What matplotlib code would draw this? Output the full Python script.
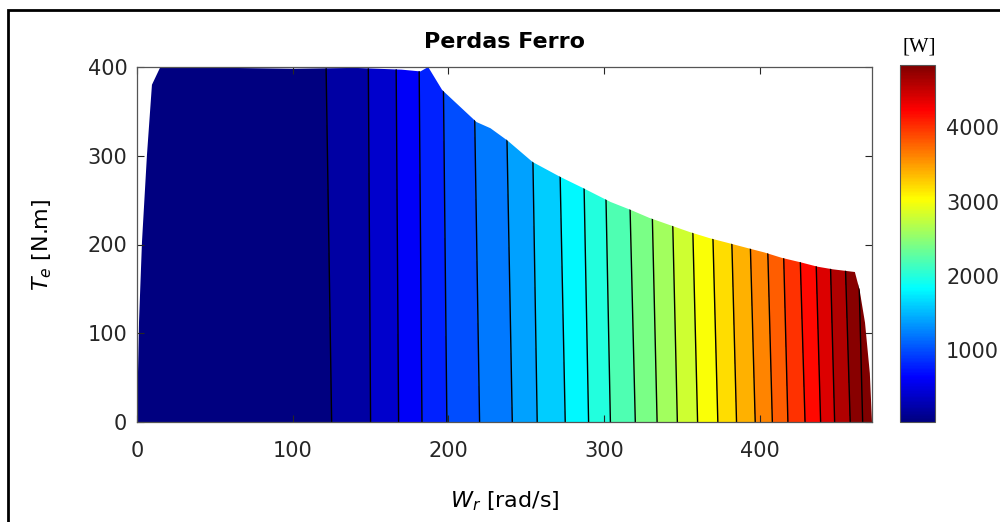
import numpy as np
import matplotlib
matplotlib.use("Agg")
import matplotlib.pyplot as plt
from matplotlib.patches import Polygon, Rectangle
from matplotlib.colors import Normalize, LinearSegmentedColormap
from matplotlib.cm import ScalarMappable

# speed points where the loss was read [rad/s]
wr_pts = [0, 125, 150, 168, 183, 199, 220, 241, 257, 275, 290, 304, 320, 334,
          347, 360, 373, 385, 397, 408, 418, 429, 439, 448, 458, 466, 472]
# torque rows [N.m]
te_pts = [0, 400]
# iron losses [W] at Te = 0 and at Te = 400
loss_te0 = [30, 200, 400, 600, 800, 1000, 1200, 1400, 1600, 1800, 2000, 2200, 2400, 2600,
            2800, 3000, 3200, 3400, 3600, 3800, 4000, 4200, 4400, 4600, 4800, 5000, 5100]
loss_te400 = [30, 205, 412, 618, 825, 1030, 1236, 1442, 1648, 1854, 2060, 2266, 2472, 2678,
              2884, 3090, 3296, 3502, 3708, 3914, 4120, 4326, 4532, 4738, 4944, 5150, 5250]

# max torque envelope
env_wr = [0, 1.3, 3.2, 6.4, 9.6, 15, 60, 100, 140, 170, 182, 187, 196, 218, 227, 238,
          254, 272, 286, 304, 317, 329, 342, 355, 368, 379, 392, 403, 414, 426, 437,
          447, 461, 464, 467.5, 470.6, 472]
env_te = [0, 113, 203, 301, 380, 400, 399, 398, 399, 397, 395, 400, 374, 338, 331, 317,
          293, 276, 264, 248, 239, 230, 222, 214, 207, 202, 196, 191, 185, 180, 175,
          172, 169, 149, 112, 55, 0]

line_levels = list(range(200, 5001, 200))
fill_levels = [0] + line_levels + [5400]
cbar_ticks = [1000, 2000, 3000, 4000]

plt.rcParams['font.family'] = 'DejaVu Sans'
plt.rcParams['mathtext.fontset'] = 'dejavusans'

# MATLAB style jet
mjet = LinearSegmentedColormap.from_list('mjet', [
    (0.0, (0, 0, 0.5)), (1/8, (0, 0, 1)), (3/8, (0, 1, 1)),
    (5/8, (1, 1, 0)), (7/8, (1, 0, 0)), (1.0, (0.5, 0, 0))])
norm = Normalize(vmin=30, vmax=4840)

fig = plt.figure(figsize=(10, 5.22), dpi=100)
ax = fig.add_axes([0.137, 1 - 422/522, 0.735, 355/522])
cax = fig.add_axes([0.900, 1 - 422/522, 0.035, 357/522])

Z = np.array([loss_te0, loss_te400])
# each band takes the colour of its lower level (as MATLAB contourf)
band_colors = [mjet(norm(v)) for v in fill_levels[:-1]]

cs = ax.contourf(wr_pts, te_pts, Z, levels=fill_levels, colors=band_colors)
cl = ax.contour(wr_pts, te_pts, Z, levels=line_levels, colors='k', linewidths=1.0)
env = Polygon(np.column_stack([env_wr, env_te]), closed=True, transform=ax.transData)
cs.set_clip_path(env)
cl.set_clip_path(env)

ax.set_xlim(0, 472)
ax.set_ylim(0, 400)
ax.set_xticks([0, 100, 200, 300, 400])
ax.set_yticks([0, 100, 200, 300, 400])
ax.tick_params(direction='in', top=True, right=True, length=5, width=0.8,
               labelsize=15, colors='#262626')
ax.tick_params(axis='x', pad=14)
ax.tick_params(axis='y', pad=7)
for s in ax.spines.values():
    s.set_color('#555555')
    s.set_linewidth(0.9)

ax.set_title('Perdas Ferro', fontsize=16, fontweight='bold', pad=14)
ax.set_xlabel('$W_r$ [rad/s]', fontsize=16, labelpad=20)
ax.set_ylabel('$T_e$ [N.m]', fontsize=16, labelpad=24)

cb = fig.colorbar(ScalarMappable(norm=norm, cmap=mjet), cax=cax)
cb.set_ticks(cbar_ticks)
cb.ax.tick_params(length=0, labelsize=15, pad=8, colors='#262626')
cb.outline.set_edgecolor('#555555')
cb.outline.set_linewidth(0.8)
fig.text(0.919, 1 - 47/522, '[W]', family='Liberation Serif', fontsize=15,
         ha='center', va='center')

# outer frame
fig.add_artist(Rectangle((0.008, -0.1), 1.2, 1.0 + 0.1 - 10/522, transform=fig.transFigure,
                         fill=False, lw=2, ec='k'))

fig.savefig('out.png', dpi=100)
